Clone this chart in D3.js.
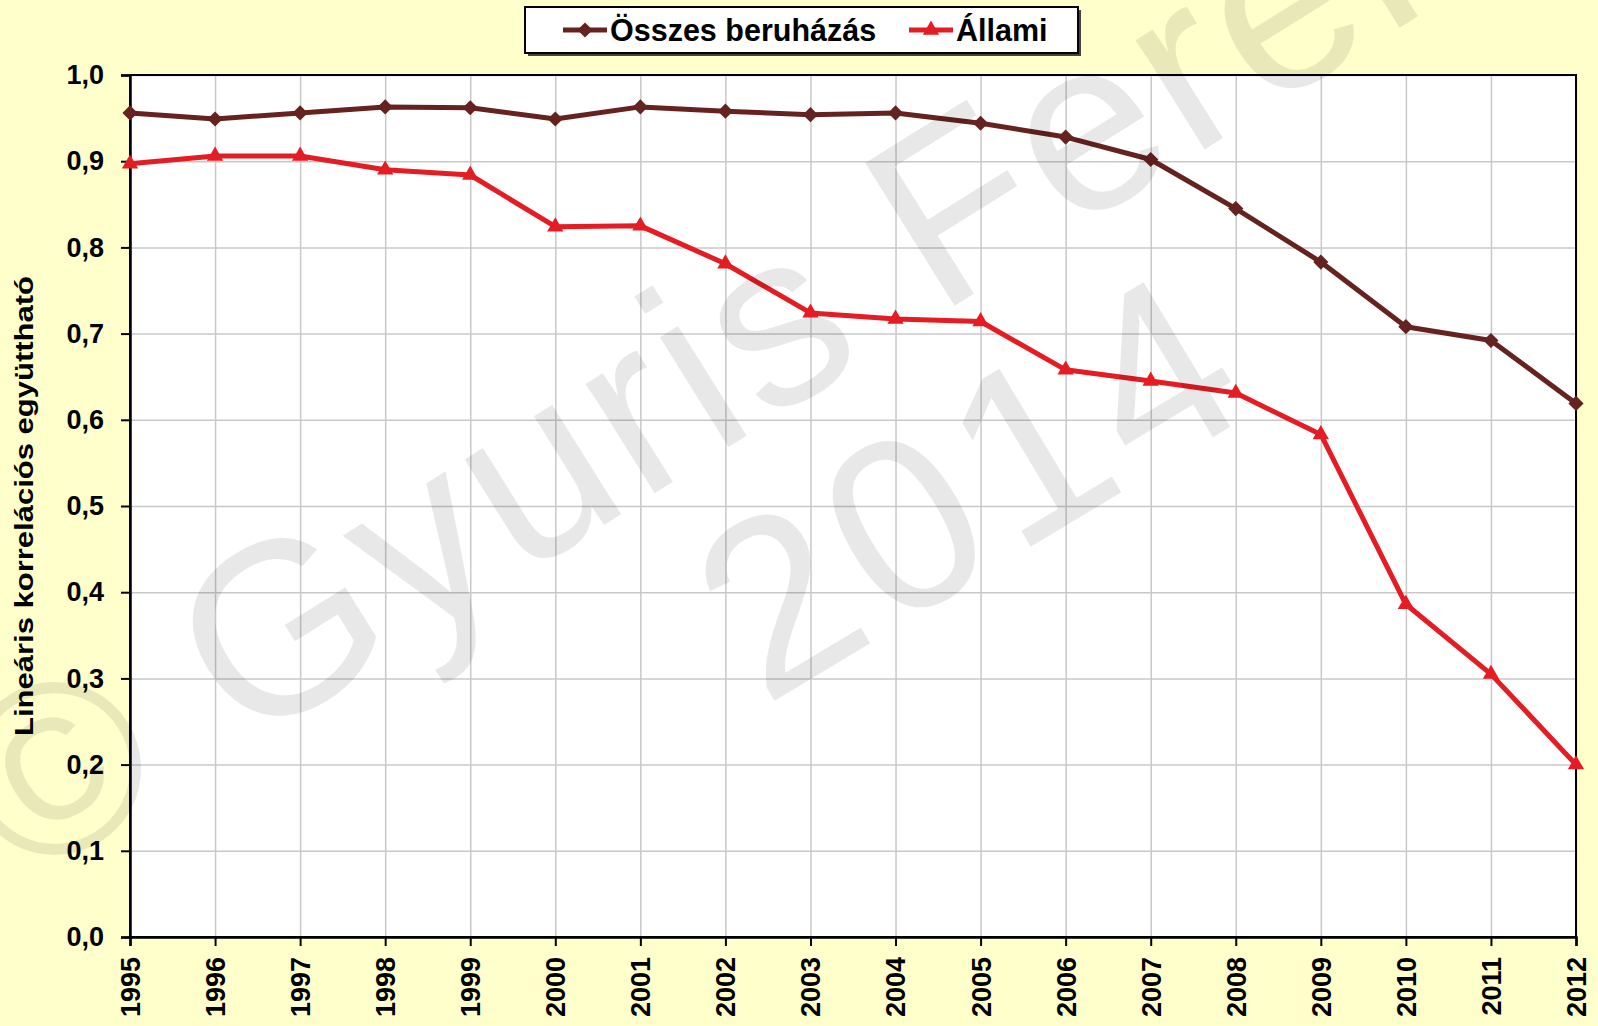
<!DOCTYPE html>
<html>
<head>
<meta charset="utf-8">
<script src="https://cdn.jsdelivr.net/npm/d3@7"></script>
<style>
  body { margin: 0; background: #ffffcc; }
  svg text { font-family: "Liberation Sans", Arial, sans-serif; }
</style>
</head>
<body>
<div id="chart"></div>
<script>
// chart data
let years = [1995, 1996, 1997, 1998, 1999, 2000, 2001, 2002, 2003, 2004, 2005, 2006, 2007, 2008, 2009, 2010, 2011, 2012];
let osszes = [0.956, 0.949, 0.956, 0.963, 0.962, 0.949, 0.963, 0.958, 0.954, 0.956, 0.944, 0.928, 0.902, 0.845, 0.783, 0.708, 0.692, 0.619];
let allami = [0.897, 0.906, 0.906, 0.890, 0.884, 0.824, 0.825, 0.781, 0.724, 0.717, 0.714, 0.658, 0.645, 0.631, 0.583, 0.386, 0.305, 0.200];
let yTicks = [0, 0.1, 0.2, 0.3, 0.4, 0.5, 0.6, 0.7, 0.8, 0.9, 1.0];
let seriesNames = ["Összes beruházás", "Állami"];
let yTitle = "Lineáris korrelációs együttható";
let watermarkLines = ["© Gyuris Ferenc", "2014"];

let width = 1598, height = 1026;
let margin = {left: 130, right: 22, top: 75, bottom: 89};
let plotW = width - margin.left - margin.right,
    plotH = height - margin.top - margin.bottom;
let colOsszes = '#66221f',
    colAllami = '#e41c23';

let svg = d3.select('#chart').append('svg')
    .attr('width', width)
    .attr('height', height);

svg.append('rect')
    .attr('width', width)
    .attr('height', height)
    .attr('fill', '#ffffcc');

let x = d3.scaleLinear().domain([1995, 2012]).range([0, plotW]);
let y = d3.scaleLinear().domain([0, 1]).range([plotH, 0]);

let g = svg.append('g').attr('transform', 'translate(' + margin.left + ',' + margin.top + ')');

g.append('rect')
    .attr('width', plotW)
    .attr('height', plotH)
    .attr('fill', '#fff');

// grid
g.append('g')
    .attr('class', 'grid')
    .call(d3.axisLeft(y).tickValues(yTicks).tickSize(-plotW).tickFormat(''))
    .call(s => s.select('.domain').remove())
    .selectAll('line').attr('stroke', '#c8c8c8').attr('stroke-width', 1.5);
g.append('g')
    .attr('class', 'grid')
    .attr('transform', 'translate(0,' + plotH + ')')
    .call(d3.axisBottom(x).tickValues(years).tickSize(-plotH).tickFormat(''))
    .call(s => s.select('.domain').remove())
    .selectAll('line').attr('stroke', '#c8c8c8').attr('stroke-width', 1.5);

// frame
g.append('rect')
    .attr('width', plotW)
    .attr('height', plotH)
    .attr('fill', 'none')
    .attr('stroke', '#000')
    .attr('stroke-width', 2);

// axes
let yAxis = g.append('g')
    .call(d3.axisLeft(y).tickValues(yTicks).tickSize(9).tickPadding(17)
        .tickFormat(d => d3.format('.1f')(d).replace('.', ',')));
yAxis.select('.domain').attr('stroke-width', 2.5);
yAxis.selectAll('line').attr('stroke-width', 2);
yAxis.selectAll('text')
    .attr('font-size', 27)
    .attr('font-weight', 'bold')
    .attr('fill', '#000');

let xAxis = g.append('g')
    .attr('transform', 'translate(0,' + plotH + ')')
    .call(d3.axisBottom(x).tickValues(years).tickSize(9).tickFormat(d3.format('d')));
xAxis.select('.domain').attr('stroke-width', 2.5);
xAxis.selectAll('line').attr('stroke-width', 2);
xAxis.selectAll('text')
    .attr('font-size', 27)
    .attr('font-weight', 'bold')
    .attr('fill', '#000')
    .attr('text-anchor', 'end')
    .attr('dy', '0.35em')
    .attr('y', 0)
    .attr('x', -20)
    .attr('transform', 'rotate(-90)');

// y title (stretched along its length like the original)
svg.append('text')
    .attr('transform', 'translate(33,' + (margin.top + plotH / 2) + ') rotate(-90) scale(1.24,1)')
    .attr('text-anchor', 'middle')
    .attr('font-size', 25)
    .attr('font-weight', 'bold')
    .text(yTitle);

// lines
let lineGen = d3.line()
    .x((d, i) => x(years[i]))
    .y(d => y(d));

let diamond = d3.symbol().type(d3.symbolSquare).size(115);
let triangle = d3.symbol().type(d3.symbolTriangle).size(115);

g.append('path')
    .datum(osszes)
    .attr('d', lineGen)
    .attr('fill', 'none')
    .attr('stroke', colOsszes)
    .attr('stroke-width', 5)
    .attr('stroke-linejoin', 'round');
g.selectAll('.pt-osszes')
    .data(osszes)
    .enter().append('path')
    .attr('class', 'pt-osszes')
    .attr('d', diamond)
    .attr('transform', (d, i) => 'translate(' + x(years[i]) + ',' + y(d) + ') rotate(45)')
    .attr('fill', colOsszes);

g.append('path')
    .datum(allami)
    .attr('d', lineGen)
    .attr('fill', 'none')
    .attr('stroke', colAllami)
    .attr('stroke-width', 5)
    .attr('stroke-linejoin', 'round');
g.selectAll('.pt-allami')
    .data(allami)
    .enter().append('path')
    .attr('class', 'pt-allami')
    .attr('d', triangle)
    .attr('transform', (d, i) => 'translate(' + x(years[i]) + ',' + y(d) + ')')
    .attr('fill', colAllami);

// legend
let leg = svg.append('g').attr('transform', 'translate(525,7)');
leg.append('rect')
    .attr('x', 3).attr('y', 3)
    .attr('width', 553).attr('height', 46)
    .attr('fill', '#444');
leg.append('rect')
    .attr('width', 553).attr('height', 46)
    .attr('fill', '#fff')
    .attr('stroke', '#000')
    .attr('stroke-width', 2);

let legItems = [
    {name: seriesNames[0], color: colOsszes, sym: diamond, rot: 45, x0: 38},
    {name: seriesNames[1], color: colAllami, sym: triangle, rot: 0, x0: 384}
];
legItems.forEach(function(it) {
    leg.append('line')
        .attr('x1', it.x0).attr('x2', it.x0 + 44)
        .attr('y1', 23).attr('y2', 23)
        .attr('stroke', it.color)
        .attr('stroke-width', 5);
    leg.append('path')
        .attr('d', it.sym)
        .attr('transform', 'translate(' + (it.x0 + 22) + ',23) rotate(' + it.rot + ')')
        .attr('fill', it.color);
    leg.append('text')
        .attr('x', it.x0 + 47)
        .attr('y', 23)
        .attr('dy', '0.35em')
        .attr('font-size', 30.5)
        .attr('font-weight', 'bold')
        .text(it.name);
});

// watermark on top
let wm = svg.append('g').attr('pointer-events', 'none');
wm.append('text')
    .attr('transform', 'translate(23,888) rotate(-32)')
    .attr('font-size', 245)
    .attr('letter-spacing', 6)
    .attr('fill', '#000')
    .attr('fill-opacity', 0.09)
    .text(watermarkLines[0]);
wm.append('text')
    .attr('transform', 'translate(764,707) rotate(-31)')
    .attr('font-size', 245)
    .attr('letter-spacing', 10)
    .attr('fill', '#000')
    .attr('fill-opacity', 0.09)
    .text(watermarkLines[1]);
</script>
</body>
</html>
